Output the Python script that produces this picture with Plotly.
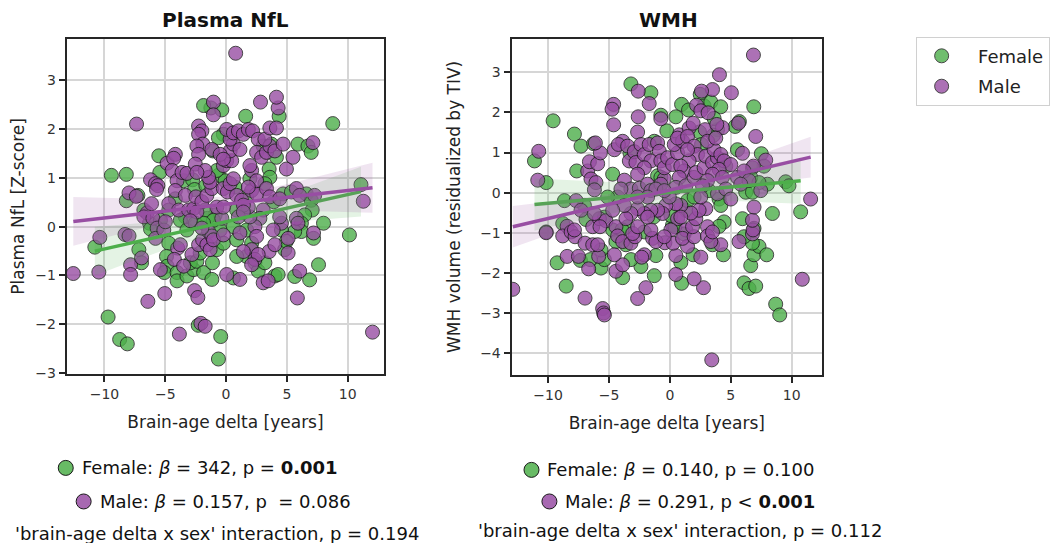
import numpy as np
import plotly.graph_objects as go

# ---------------- data ----------------
NFL_FEMALE = [(-9.70,-1.85),(-8.75,-2.31),(-8.12,-2.40),(-0.63,-2.71),(-0.44,-2.25),(-2.29,-2.02),(10.14,-0.17),(11.09,0.86),(8.77,2.11),(-9.43,1.05),(-8.20,1.07),(-10.79,-0.42),(-8.20,0.53),(-7.25,0.64),(-7.17,-0.47),(-6.95,-0.74),(-6.76,0.34),(-5.53,1.45),(-5.45,1.11),(-3.49,0.94),(-2.75,0.96),(-2.59,0.76),(-4.17,0.57),(-6.29,0.07),(-6.21,-0.05),(-4.71,-0.34),(-5.40,0.13),(-4.71,0.34),(-3.35,0.20),(-3.76,0.13),(-3.22,-0.07),(-4.90,-0.61),(-4.85,-0.81),(-5.07,-0.94),(-4.03,-0.94),(-4.03,-1.11),(-3.22,-1.01),(-2.67,-0.88),(-2.94,-0.74),(-2.40,-0.71),(-2.13,-0.54),(-1.85,-0.94),(-1.17,-1.08),(-1.12,-0.74),(-0.76,-0.47),(-0.22,-0.34),(-0.49,-0.07),(-0.90,0.24),(-1.53,0.17),(-1.72,0.34),(-1.66,0.84),(-0.63,1.05),(-0.08,0.94),(0.74,0.81),(1.69,0.61),(1.96,0.98),(-0.22,1.89),(3.05,1.65),(3.73,1.69),(4.36,2.26),(1.61,2.26),(-1.25,2.43),(-1.85,2.48),(-0.35,2.39),(-0.63,1.82),(-1.09,1.55),(-0.76,1.15),(3.54,1.18),(4.14,1.42),(5.91,1.69),(6.73,1.65),(7.00,1.52),(3.60,1.01),(3.19,0.88),(3.92,0.51),(4.69,0.67),(5.37,0.71),(6.59,0.67),(7.00,0.54),(7.08,0.34),(6.46,0.24),(6.19,0.07),(6.19,-0.10),(5.64,-0.10),(4.82,-0.47),(8.01,0.07),(7.19,-0.24),(7.60,-0.78),(6.87,-1.09),(5.64,-1.02),(4.01,-1.01),(4.28,-0.98),(4.55,-0.07),(4.96,-0.30),(1.69,-0.07),(0.60,0.00),(0.87,-0.27),(2.10,-0.34),(1.69,-0.61),(2.37,-0.74),(2.64,-0.91),(3.19,-0.74),(0.87,-0.61),(0.60,-1.05),(0.87,0.34),(-1.04,0.13),(-2.53,0.07),(-1.85,0.07)]

NFL_MALE = [(0.79,3.55),(-12.56,-0.96),(12.04,-2.16),(-3.84,-2.20),(-2.07,-1.98),(-1.72,-2.04),(-6.43,-1.53),(-5.04,-1.37),(-2.59,-1.31),(-2.32,-1.45),(5.86,-1.46),(11.28,0.52),(-7.36,2.10),(-10.38,-0.22),(-10.46,-0.93),(-7.98,0.69),(-7.38,0.62),(-8.31,-0.16),(-7.98,-0.19),(-7.85,-0.78),(-7.85,-0.98),(-6.95,-0.64),(-6.49,0.28),(-6.21,0.96),(-5.80,0.88),(-5.61,0.84),(-5.72,0.76),(-4.85,1.30),(-4.17,1.48),(-4.31,1.40),(-4.44,1.15),(-4.03,0.94),(-3.62,1.11),(-3.22,1.09),(-4.17,0.74),(-3.35,0.64),(-6.13,0.47),(-6.76,0.20),(-6.02,0.17),(-5.67,-0.03),(-5.80,-0.24),(-5.12,-0.07),(-4.99,0.10),(-4.71,0.47),(-3.90,0.34),(-3.08,0.34),(-2.67,0.37),(-2.48,0.61),(-2.40,0.30),(-2.94,0.12),(-3.98,-0.44),(-3.76,-0.37),(-5.40,-0.88),(-4.25,-0.67),(-3.49,-0.81),(-2.81,-0.57),(-2.26,-0.37),(-1.93,-0.27),(-1.58,-0.37),(-1.31,-0.47),(-1.44,-0.10),(-1.17,-0.19),(-1.04,-0.27),(-0.35,0.17),(-0.22,-0.17),(-0.76,0.40),(-1.99,0.51),(-1.58,0.64),(-1.17,0.78),(-1.31,0.91),(-1.44,1.01),(-0.22,0.78),(0.11,0.71),(0.33,0.88),(0.60,0.98),(0.87,0.64),(1.28,0.54),(2.10,0.74),(2.51,0.67),(2.10,1.15),(2.51,0.94),(1.96,1.25),(-0.22,1.25),(0.05,1.35),(0.46,1.35),(0.33,1.55),(0.60,1.69),(0.33,1.79),(0.05,1.99),(0.60,1.92),(1.01,1.96),(1.42,1.89),(1.14,1.58),(1.83,1.99),(2.18,1.96),(2.64,1.79),(2.51,1.52),(2.92,1.42),(3.32,1.52),(3.60,1.65),(3.19,1.79),(4.01,1.55),(4.69,1.69),(3.60,2.02),(4.14,2.02),(4.28,2.43),(4.14,2.65),(2.83,2.55),(-1.04,2.55),(-1.04,2.29),(-2.26,2.06),(-1.99,1.96),(-2.26,1.89),(-1.91,1.69),(-2.40,1.65),(-1.17,1.58),(-2.26,1.48),(-2.53,1.28),(-1.72,1.15),(-2.40,1.11),(-0.49,1.48),(-0.22,1.38),(4.96,1.18),(5.50,1.42),(7.14,1.72),(3.32,0.78),(3.60,0.61),(4.41,0.57),(5.78,0.78),(6.05,0.64),(7.28,0.64),(5.78,0.17),(5.91,0.07),(5.10,-0.24),(5.10,-0.54),(7.19,-0.13),(6.05,-0.91),(3.05,-1.15),(3.46,-1.11),(3.54,-0.51),(4.01,-0.37),(4.55,0.07),(4.41,0.20),(3.87,-0.07),(3.05,0.34),(2.78,0.17),(2.37,0.00),(2.51,-0.20),(1.96,0.20),(1.83,0.40),(1.42,0.44),(1.01,0.20),(1.14,-0.13),(2.10,-0.47),(2.37,-0.67),(2.64,-0.57),(2.10,-0.78),(1.42,-0.51),(1.14,-1.08),(0.05,-0.98),(1.42,0.30),(1.83,0.81),(-0.22,0.40),(-1.99,-0.03)]

WMH_FEMALE = [(2.49,2.45),(-3.20,2.71),(-1.56,2.49),(0.96,2.20),(1.53,2.06),(2.81,2.16),(3.36,2.26),(4.18,2.14),(6.89,2.14),(-9.59,1.79),(-7.84,1.46),(-7.30,1.16),(-0.74,1.93),(0.49,1.89),(-0.25,1.54),(2.43,1.51),(3.91,1.57),(3.63,1.85),(5.36,1.65),(5.71,1.77),(5.55,1.07),(7.51,0.97),(7.73,0.66),(6.78,0.62),(6.64,0.38),(9.51,0.27),(9.78,0.17),(8.01,0.21),(7.32,0.25),(10.74,-0.48),(8.42,-0.52),(8.69,-2.78),(9.02,-3.05),(6.09,-2.25),(6.50,-2.39),(7.05,-2.33),(6.64,-1.82),(6.91,-1.55),(7.32,-1.34),(7.95,-1.55),(6.78,-1.26),(6.91,-0.89),(6.09,-1.10),(5.96,-0.65),(4.45,-0.73),(4.40,-1.55),(0.96,-2.26),(0.90,-1.74),(1.91,-1.55),(1.17,-1.03),(0.22,-0.81),(-1.15,-1.57),(-1.28,-2.07),(-2.38,-1.84),(-8.52,-2.33),(-9.26,-1.75),(-7.35,-1.69),(-6.53,-1.67),(-5.66,-1.88),(-5.38,-1.67),(-3.88,-2.12),(-3.20,-1.67),(-10.16,-0.98),(-8.80,-0.77),(-5.66,-1.43),(-6.89,-0.67),(-4.70,-0.93),(-4.43,-1.22),(-3.61,-1.30),(-2.10,-0.98),(0.41,-0.85),(3.50,-1.30),(4.04,-0.84),(1.31,-0.44),(-1.34,-0.61),(-4.29,-0.11),(-5.38,-0.61),(-5.11,-0.11),(-7.02,-0.32),(-8.66,-0.20),(-10.16,0.25),(-11.12,0.79),(-7.65,0.54),(-6.26,1.22),(-4.70,0.46),(-3.28,0.99),(-1.28,1.28),(-1.01,0.42),(2.60,1.20),(3.58,1.43),(4.59,0.66),(3.22,0.05),(4.04,-0.16),(4.18,-0.32),(6.23,0.01),(6.78,0.01),(1.45,-0.20),(1.99,-0.11),(0.08,-0.57),(-3.47,-0.85),(-3.93,-0.93),(-0.74,0.38)]

WMH_MALE = [(6.86,3.43),(4.07,2.94),(5.05,2.49),(3.50,2.57),(2.60,2.53),(-2.60,2.53),(-1.70,2.22),(2.19,2.18),(2.54,2.04),(3.14,1.99),(-4.62,2.20),(-4.75,2.08),(-2.60,1.89),(-4.62,1.69),(-2.65,1.51),(-0.74,1.84),(0.77,1.44),(1.58,1.61),(1.91,1.73),(2.90,1.57),(4.32,1.62),(3.85,1.70),(5.63,1.73),(7.05,1.40),(5.96,0.98),(7.87,0.81),(6.86,0.66),(11.56,-0.16),(10.87,-2.16),(6.78,-1.03),(6.83,-0.93),(5.68,-1.22),(6.78,-0.69),(6.91,-0.36),(4.18,-1.30),(3.44,-4.17),(2.76,-2.37),(1.99,-2.15),(0.49,-2.04),(0.49,-1.57),(2.54,-1.61),(1.45,-1.34),(1.31,-0.93),(0.63,-0.65),(0.08,-0.93),(-0.41,-1.25),(0.27,-1.26),(-2.10,-1.55),(-2.32,-1.61),(-1.97,-2.37),(-2.65,-2.64),(-5.52,-2.89),(-5.44,-3.00),(-5.38,-3.05),(-6.97,-2.63),(-12.90,-2.41),(-8.44,-1.59),(-7.51,-1.59),(-6.67,-1.90),(-5.85,-1.59),(-4.43,-1.96),(-3.88,-1.80),(-4.56,-1.55),(-10.16,-1.00),(-8.44,-0.84),(-8.80,-1.08),(-8.11,-0.98),(-7.79,-1.10),(-6.97,-1.26),(-6.34,-1.30),(-5.93,-1.30),(-7.84,-0.93),(-6.34,-0.85),(-5.79,-0.65),(-5.25,-0.70),(-4.43,-0.85),(-4.29,-1.08),(-3.88,-1.22),(-3.20,-1.26),(-2.87,-1.10),(-3.06,-1.02),(-1.42,-1.14),(-1.15,-1.22),(-0.46,-1.10),(1.04,-1.14),(1.99,-1.10),(1.86,-0.85),(2.13,-0.65),(2.95,-0.40),(3.09,-0.85),(3.09,-1.08),(3.36,-1.22),(3.50,-0.98),(2.40,-0.44),(1.72,-0.51),(0.90,-0.32),(0.49,-0.28),(-0.33,-0.32),(-0.60,-0.52),(-1.01,-0.44),(-1.56,-0.44),(-2.10,-0.52),(-2.65,-0.40),(-3.20,-0.52),(-3.61,-0.65),(-3.74,-0.32),(-4.70,-0.44),(-5.74,-0.85),(-7.70,-0.20),(-7.30,-0.44),(-6.20,-0.52),(-10.85,0.31),(-10.77,1.03),(-6.75,0.54),(-6.61,0.77),(-5.93,0.72),(-5.71,0.99),(-6.12,1.24),(-6.48,0.34),(-6.07,0.25),(-6.20,0.07),(-4.56,1.07),(-3.88,1.28),(-4.23,1.20),(-3.47,1.16),(-3.33,0.79),(-2.92,1.02),(-2.79,0.75),(-2.38,1.20),(-2.10,0.95),(-1.70,1.20),(-1.01,1.24),(-0.87,1.03),(-1.56,0.79),(-0.74,0.79),(-2.10,0.62),(-2.65,0.46),(-3.74,0.31),(-3.20,0.09),(-4.02,0.09),(-2.51,0.11),(-1.83,0.21),(-1.56,0.05),(-0.46,0.34),(-0.46,0.62),(-0.19,0.87),(0.22,0.70),(0.63,0.99),(0.36,1.20),(1.04,1.28),(0.63,1.36),(1.45,1.40),(1.99,1.16),(2.27,0.95),(1.58,0.79),(1.17,0.54),(1.45,1.07),(0.90,0.66),(0.77,0.38),(0.49,0.13),(1.31,0.17),(1.99,0.38),(2.13,0.50),(2.81,0.62),(2.95,0.91),(3.50,0.75),(3.91,0.87),(3.63,1.07),(3.09,1.28),(3.77,1.36),(4.18,0.95),(4.45,0.79),(5.00,0.70),(4.04,0.58),(3.50,0.46),(4.32,0.38),(3.09,0.30),(2.68,0.17),(3.91,-0.03),(4.59,0.09),(5.00,-0.16),(5.55,0.38),(6.09,0.54),(6.50,0.30),(7.46,0.05),(5.82,0.21),(-0.74,0.21),(-1.15,0.09),(-1.83,-0.11),(-2.65,-0.11),(2.54,-0.11),(-0.05,-0.11),(-0.46,0.05),(0.90,-0.61),(-1.56,-0.93),(-1.83,-0.61),(-2.65,-0.85)]

# regression fits as drawn in the reference: (intercept, slope)
NFL_FIT = {"Female": (0.10, 0.0557), "Male": (0.46, 0.0281)}
WMH_FIT = {"Female": (0.005, 0.0273), "Male": (0.065, 0.0709)}

PANEL_TITLES = ["Plasma NfL", "WMH"]
Y_TITLES = ["Plasma NfL [Z-score]", "WMH volume (residualized by TIV)"]
X_TITLE = "Brain-age delta [years]"
SEXES = ["Female", "Male"]
STATS_LEFT = ["Female: <i>β</i> = 342, p = <b>0.001</b>",
              "Male: <i>β</i> = 0.157, p  = 0.086",
              "'brain-age delta x sex' interaction, p = 0.194"]
STATS_RIGHT = ["Female: <i>β</i> = 0.140, p = 0.100",
               "Male: <i>β</i> = 0.291, p &lt; <b>0.001</b>",
               "'brain-age delta x sex' interaction, p = 0.112"]

GREEN = "#4daf4a"
PURPLE = "#984ea3"
COLORS = {"Female": GREEN, "Male": PURPLE}
FONT = "DejaVu Sans"

OFF = 8  # page body margin
W, H = 1058 - 2 * OFF, 551 - 2 * OFF
fig = go.Figure()


def px_x(p):
    return (p - OFF) / W


def px_y(p):
    return 1 - (p - OFF) / H


def rgba(hexc, a):
    hexc = hexc.lstrip("#")
    r, g, b = int(hexc[0:2], 16), int(hexc[2:4], 16), int(hexc[4:6], 16)
    return f"rgba({r},{g},{b},{a})"


panels = [(NFL_FEMALE, NFL_MALE, NFL_FIT, "x", "y"), (WMH_FEMALE, WMH_MALE, WMH_FIT, "x2", "y2")]
for pi, (fem, mal, fits, xa, ya) in enumerate(panels):
    for sex, pts in (("Female", fem), ("Male", mal)):
        arr = np.array(pts)
        fig.add_trace(go.Scatter(
            x=arr[:, 0], y=arr[:, 1], mode="markers", xaxis=xa, yaxis=ya,
            name="\u00a0\u00a0" + sex, legendgroup=sex, showlegend=(pi == 0),
            marker=dict(size=14, color=COLORS[sex], opacity=0.8,
                        line=dict(color="#1a1a1a", width=1)),
        ))
    for sex, pts in (("Female", fem), ("Male", mal)):
        arr = np.array(pts)
        x, y = arr[:, 0], arr[:, 1]
        a, b = fits[sex]
        n = len(x)
        resid = y - (a + b * x)
        s = np.sqrt(np.sum(resid ** 2) / (n - 2))
        sxx = np.sum((x - x.mean()) ** 2)
        xg = np.linspace(x.min(), x.max(), 100)
        yg = a + b * xg
        half = 1.97 * s * np.sqrt(1 / n + (xg - x.mean()) ** 2 / sxx)
        fig.add_trace(go.Scatter(
            x=np.concatenate([xg, xg[::-1]]),
            y=np.concatenate([yg + half, (yg - half)[::-1]]),
            fill="toself", fillcolor=rgba(COLORS[sex], 0.15), mode="lines",
            line=dict(width=0), xaxis=xa, yaxis=ya, showlegend=False, hoverinfo="skip"))
        fig.add_trace(go.Scatter(
            x=xg, y=yg, mode="lines", xaxis=xa, yaxis=ya, showlegend=False,
            line=dict(color=COLORS[sex], width=3.5)))

axis_common = dict(
    showline=True, linecolor="#262626", linewidth=2, mirror=True,
    ticks="outside", ticklen=6, tickwidth=1.5, tickcolor="#262626",
    showgrid=True, gridcolor="#d6d6d6", gridwidth=1.5, zeroline=False,
    tickfont=dict(family=FONT, size=14, color="#333333"),
    title_font=dict(family=FONT, size=17, color="#222222"),
)

fig.update_layout(
    width=W, height=H, margin=dict(l=0, r=0, t=0, b=0),
    plot_bgcolor="white", paper_bgcolor="white",
    xaxis=dict(domain=[px_x(63), px_x(382)], range=[-13.1, 13.0], anchor="y",
               tickvals=[-10, -5, 0, 5, 10], title_text=X_TITLE, **axis_common),
    yaxis=dict(domain=[px_y(379), px_y(39)], range=[-3.02, 3.85], anchor="x",
               tickvals=[-3, -2, -1, 0, 1, 2, 3], title_text=Y_TITLES[0], **axis_common),
    xaxis2=dict(domain=[px_x(510), px_x(822)], range=[-13.0, 12.5], anchor="y2",
                tickvals=[-10, -5, 0, 5, 10], title_text=X_TITLE, **axis_common),
    yaxis2=dict(domain=[px_y(380), px_y(39)], range=[-4.55, 3.84], anchor="x2",
                tickvals=[-4, -3, -2, -1, 0, 1, 2, 3], title_text=Y_TITLES[1], **axis_common),
    legend=dict(x=px_x(916), y=px_y(37), xanchor="left", yanchor="top",
                bordercolor="#d0d0d0", borderwidth=1, bgcolor="white",
                font=dict(family=FONT, size=18, color="#222222"),
                itemwidth=40, tracegroupgap=4),
    showlegend=True,
)

annotations = []
for title, cx in zip(PANEL_TITLES, [223, 668]):
    annotations.append(dict(text=f"<b>{title}</b>", x=px_x(cx), y=px_y(20), xref="paper", yref="paper",
                            xanchor="center", yanchor="middle", showarrow=False,
                            font=dict(family=FONT, size=20, color="#111111")))

shapes = []
stat_layout = [
    (STATS_LEFT, [(62, 474), (80, 508)], (214, 540)),
    (STATS_RIGHT, [(530, 476), (548, 508)], (679, 537)),
]
for texts, circles, inter in stat_layout:
    for (cx, cy), txt, sex in zip(circles, texts[:2], SEXES):
        shapes.append(dict(type="circle", xref="paper", yref="paper", xsizemode="pixel", ysizemode="pixel",
                           xanchor=px_x(cx), yanchor=px_y(cy), x0=-7.5, x1=7.5, y0=-7.5, y1=7.5,
                           fillcolor=rgba(COLORS[sex], 0.85), line=dict(color="#1a1a1a", width=1)))
        annotations.append(dict(text=txt, x=px_x(cx + 14), y=px_y(cy), xref="paper", yref="paper",
                                xanchor="left", yanchor="middle", showarrow=False,
                                font=dict(family=FONT, size=18, color="#111111")))
    annotations.append(dict(text=texts[2], x=px_x(inter[0]), y=px_y(inter[1]), xref="paper", yref="paper",
                            xanchor="center", yanchor="middle", showarrow=False,
                            font=dict(family=FONT, size=18, color="#111111")))

fig.update_layout(annotations=annotations, shapes=shapes)
fig.write_html("out.html")
